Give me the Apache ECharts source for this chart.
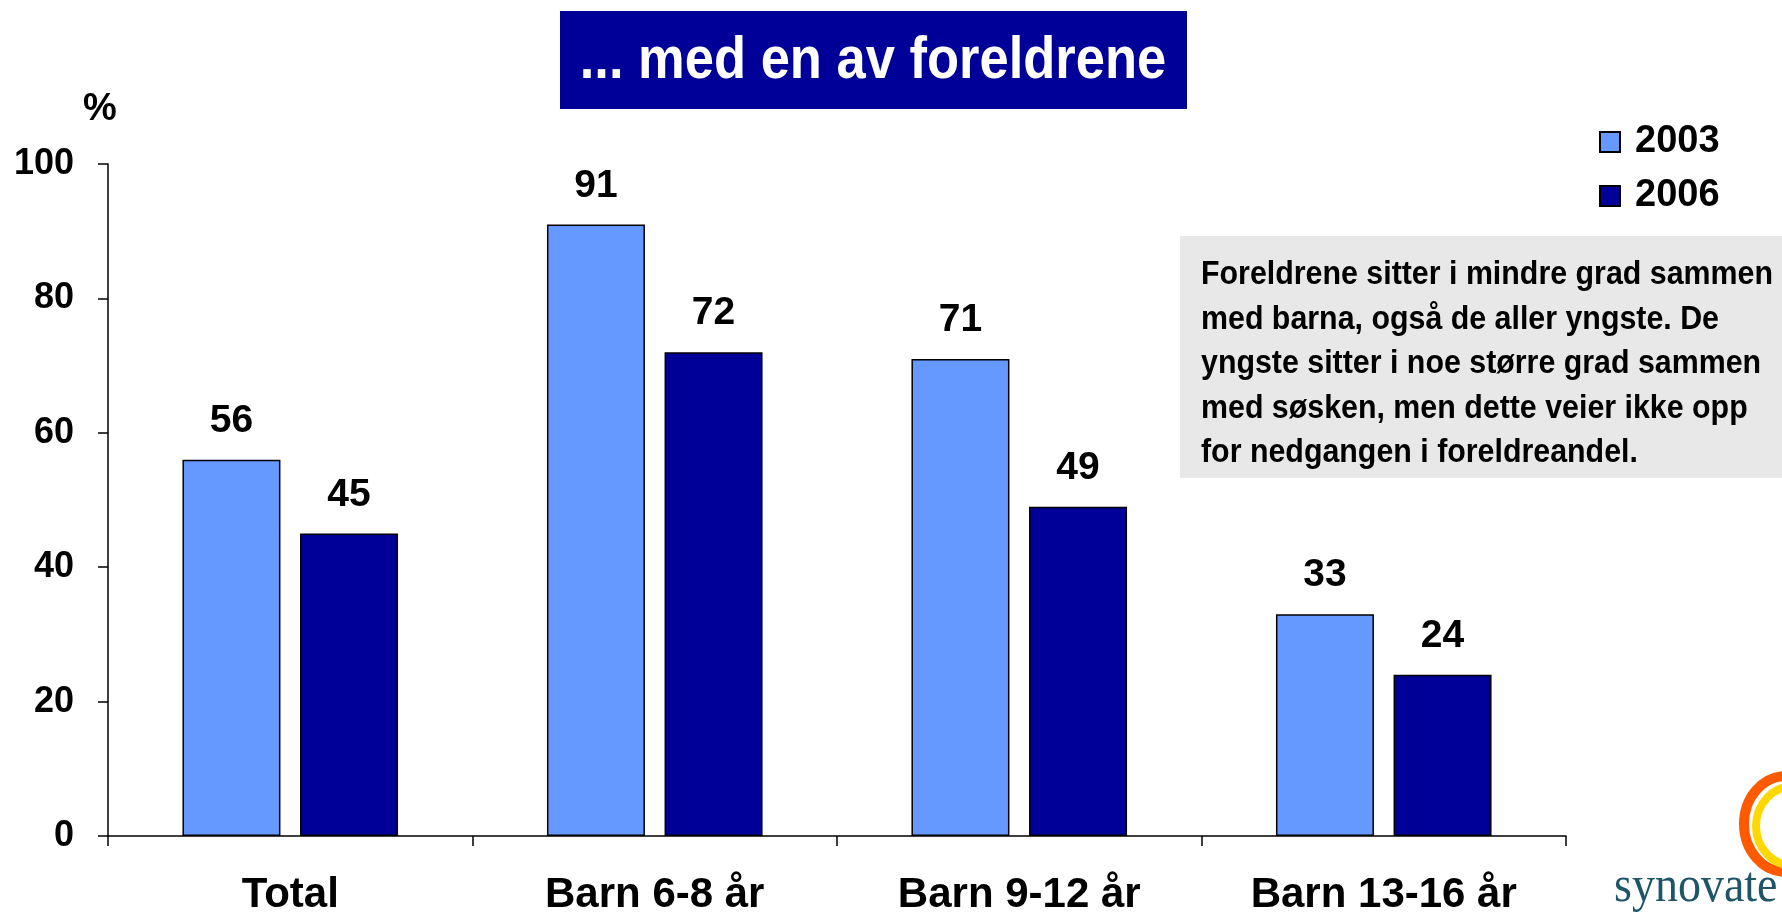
<!DOCTYPE html>
<html>
<head>
<meta charset="utf-8">
<script src="https://cdn.jsdelivr.net/npm/echarts@6/dist/echarts.min.js"></script>
<style>
  html, body { margin: 0; padding: 0; background: #fff; }
  #chart { width: 1782px; height: 912px; }
</style>
</head>
<body>
<div id="chart"></div>
<script>
// data
const categories = ['Total', 'Barn 6-8 år', 'Barn 9-12 år', 'Barn 13-16 år'];
const years = ['2003', '2006'];
const values2003 = [56, 91, 71, 33];
const values2006 = [45, 72, 49, 24];
const yTicks = [0, 20, 40, 60, 80, 100];
const noteLines = [
  'Foreldrene sitter i mindre grad sammen',
  'med barna, også de aller yngste. De',
  'yngste sitter i noe større grad sammen',
  'med søsken, men dette veier ikke opp',
  'for nedgangen i foreldreandel.'
];

const FONT = '"Liberation Sans", Arial, sans-serif';

const chart = echarts.init(document.getElementById('chart'));

const barSeries = (name, data, color) => ({
  name: name,
  type: 'bar',
  data: data,
  barWidth: 98,
  barGap: '20%',
  itemStyle: { color: color, borderColor: '#000', borderWidth: 1.5 },
  label: {
    show: true,
    position: 'top',
    distance: 19,
    color: '#000',
    fontFamily: FONT,
    fontWeight: 'bold',
    fontSize: 39
  }
});

const option = {
  animation: false,
  backgroundColor: '#fff',
  grid: { left: 108, right: 216, top: 164, bottom: 76, containLabel: false, outerBoundsMode: 'none' },
  legend: {
    data: years,
    orient: 'vertical',
    left: 1594,
    top: 118,
    icon: 'rect',
    itemWidth: 20,
    itemHeight: 20,
    itemGap: 16,
    textStyle: {
      fontFamily: FONT, fontWeight: 'bold', fontSize: 38, color: '#000',
      padding: [0, 0, 0, 10]
    }
  },
  xAxis: {
    type: 'category',
    data: categories,
    axisLine: { lineStyle: { color: '#000', width: 1.5 } },
    axisTick: { show: true, length: 10, lineStyle: { color: '#000', width: 1.5 } },
    axisLabel: {
      color: '#000',
      fontFamily: FONT,
      fontWeight: 'bold',
      fontSize: 42,
      margin: 38
    }
  },
  yAxis: {
    type: 'value',
    min: 0,
    max: 100,
    interval: 20,
    splitLine: { show: false },
    axisLine: { show: true, lineStyle: { color: '#000', width: 1.5 } },
    axisTick: { show: true, length: 10, lineStyle: { color: '#000', width: 1.5 } },
    axisLabel: {
      color: '#000',
      fontFamily: FONT,
      fontWeight: 'bold',
      fontSize: 36,
      margin: 34,
      formatter: v => yTicks.includes(v) ? String(v) : ''
    }
  },
  series: [
    barSeries(years[0], values2003, '#6699FF'),
    barSeries(years[1], values2006, '#000099')
  ],
  graphic: [
    // title box
    { type: 'rect', left: 560, top: 11, shape: { width: 627, height: 98 }, style: { fill: '#000099' } },
    {
      type: 'text', x: 873, y: 62, scaleX: 0.89,
      style: {
        text: '... med en av foreldrene', fill: '#fff',
        font: 'bold 59px ' + FONT, align: 'center', verticalAlign: 'middle'
      }
    },
    // y unit
    {
      type: 'text', x: 100, y: 110,
      style: { text: '%', fill: '#000', font: 'bold 38px ' + FONT, align: 'center', verticalAlign: 'middle' }
    },
    // note box
    { type: 'rect', left: 1180, top: 236, shape: { width: 602, height: 242 }, style: { fill: '#E8E8E8' } },
    {
      type: 'text', x: 1201, y: 253, scaleX: 0.92,
      style: {
        text: noteLines.join('\n'), fill: '#000',
        font: 'bold 33px ' + FONT, lineHeight: 44.5, align: 'left', verticalAlign: 'top'
      }
    },
    // logo
    {
      type: 'ellipse', shape: { cx: 1786, cy: 824, rx: 42, ry: 48 },
      style: { fill: 'none', stroke: '#FF5A00', lineWidth: 10 }
    },
    {
      type: 'ellipse', shape: { cx: 1794, cy: 826, rx: 38, ry: 40 },
      style: { fill: 'none', stroke: '#FFD800', lineWidth: 8 }
    },
    {
      type: 'text', x: 1614, y: 888, scaleX: 0.92,
      style: {
        text: 'synovate', fill: '#1E5568',
        font: '50px "Liberation Serif", "DejaVu Serif", serif', align: 'left', verticalAlign: 'middle'
      }
    }
  ]
};

chart.setOption(option);
</script>
</body>
</html>
